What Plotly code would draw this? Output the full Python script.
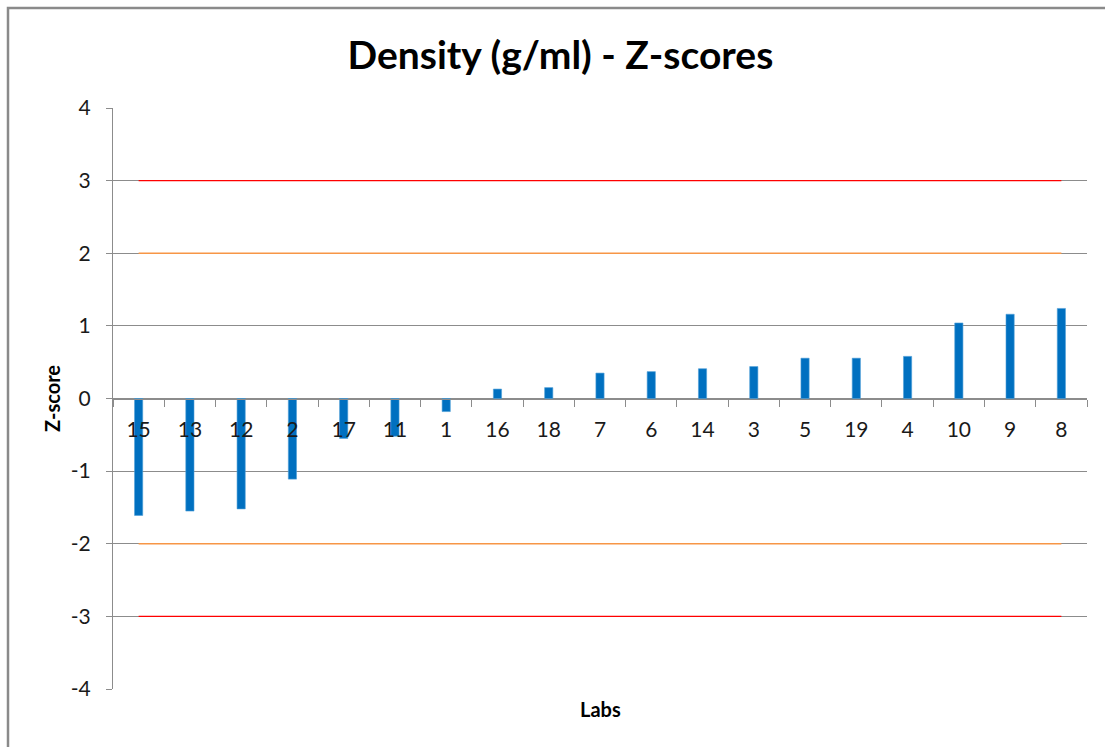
import plotly.graph_objects as go

labs = ["15", "13", "12", "2", "17", "11", "1", "16", "18", "7", "6", "14", "3", "5", "19", "4", "10", "9", "8"]
zscores = [-1.61, -1.55, -1.52, -1.11, -0.55, -0.52, -0.18, 0.13, 0.15, 0.35, 0.37, 0.41,
           0.44, 0.555, 0.555, 0.58, 1.04, 1.16, 1.24]
warn_limit = 2
action_limit = 3
y_ticks = [-4, -3, -2, -1, 0, 1, 2, 3, 4]
y_tick_text = ["-4", "-3", "-2", "-1", "0", "1", "2", "3", "4"]

FONT = "Lato"
fig = go.Figure()

fig.add_trace(go.Bar(x=labs, y=zscores, width=0.16,
                     marker=dict(color="#0070C0", line=dict(color="#4f9fd8", width=0.6)),
                     showlegend=False))
for lim, col in [(warn_limit, "#F79646"), (-warn_limit, "#F79646"),
                 (action_limit, "#FF0000"), (-action_limit, "#FF0000")]:
    fig.add_trace(go.Scatter(x=labs, y=[lim] * len(labs), mode="lines",
                             line=dict(color=col, width=1.3), showlegend=False, hoverinfo="skip"))

fig.update_layout(
    width=1105, height=747,
    margin=dict(l=113, r=18, t=108, b=58),
    paper_bgcolor="white", plot_bgcolor="white",
    title=dict(text="<b>Density (g/ml) - Z-scores</b>", x=0.5072, xanchor="center",
               y=0.926, yanchor="middle", font=dict(family=FONT, size=39, color="#000000")),
    font=dict(family=FONT, color="#1a1a1a"),
    xaxis=dict(type="category", anchor="free", position=0.5, showgrid=False,
               showline=True, linecolor="#8c8c8c", linewidth=1,
               ticks="outside", tickson="boundaries", ticklen=7, tickcolor="#8c8c8c",
               tickfont=dict(family=FONT, size=21, color="#1a1a1a"),
               ticklabelstandoff=12, zeroline=False),
    yaxis=dict(range=[-4, 4], tickvals=y_ticks, ticktext=y_tick_text,
               showgrid=True, gridcolor="#8c8c8c", gridwidth=1,
               zeroline=False, showline=True, linecolor="#8c8c8c", linewidth=1,
               ticks="outside", ticklen=6, tickcolor="#8c8c8c",
               tickfont=dict(family=FONT, size=21, color="#1a1a1a"),
               ticklabelstandoff=11,
               title=dict(text="<b>Z-score</b>", font=dict(family=FONT, size=20, color="#000000"),
                          standoff=4)),
    shapes=[dict(type="rect", xref="paper", yref="paper",
                 x0=-0.1078, x1=1.03, y0=1.172, y1=-0.16,
                 line=dict(color="#8a8a8a", width=2.5), fillcolor="rgba(0,0,0,0)", layer="below")],
    annotations=[dict(text="<b>Labs</b>", xref="paper", yref="paper", x=0.5, y=-0.011,
                      xanchor="center", yanchor="top", showarrow=False,
                      font=dict(family=FONT, size=20, color="#000000"))],
)

fig.write_html("out.html")
